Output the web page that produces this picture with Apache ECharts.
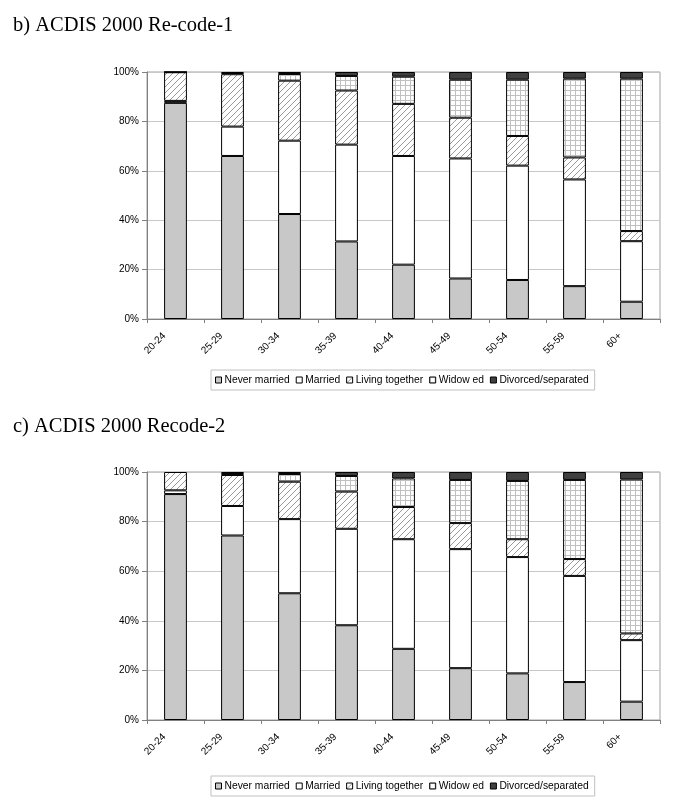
<!DOCTYPE html>
<html><head><meta charset="utf-8">
<script src="https://cdn.jsdelivr.net/npm/echarts@6/dist/echarts.min.js"></script>
<style>html,body{margin:0;padding:0;background:#fff}#c{width:676px;height:805px}</style>
</head><body><div id="c"></div>
<script>
const categories = ['20-24','25-29','30-34','35-39','40-44','45-49','50-54','55-59','60+'];
const seriesNames = ['Never married','Married','Living together','Widow ed','Divorced/separated'];
const yTicks = [0,20,40,60,80,100];

// Chart b) ACDIS 2000 Re-code-1 (percent)
const b_never    = [87.5, 66.0, 42.5, 31.4, 22.0, 16.4, 15.8, 13.3, 7.0];
const b_married  = [0.8, 11.9, 29.7, 39.2, 44.0, 48.6, 46.3, 43.2, 24.5];
const b_living   = [11.6, 21.2, 24.3, 21.9, 21.1, 16.5, 12.0, 8.9, 4.1];
const b_widowed  = [0.05, 0.5, 2.7, 5.9, 11.0, 15.4, 22.8, 31.9, 61.7];
const b_divorced = [0.05, 0.4, 0.8, 1.6, 1.9, 3.1, 3.1, 2.7, 2.7];

// Chart c) ACDIS 2000 Recode-2 (percent)
const c_never    = [91.1, 74.4, 51.1, 38.2, 28.7, 20.9, 18.8, 15.3, 7.4];
const c_married  = [1.5, 11.9, 29.9, 38.9, 44.2, 48.0, 46.9, 42.8, 24.8];
const c_living   = [7.4, 12.5, 15.1, 15.0, 13.0, 10.5, 7.2, 6.8, 2.7];
const c_widowed  = [0.05, 0.8, 3.1, 6.3, 11.5, 17.4, 23.5, 31.9, 62.1];
const c_divorced = [0.05, 0.4, 0.8, 1.6, 2.6, 3.2, 3.6, 3.2, 3.0];

function hatch(){
  const s=6, cv=document.createElement('canvas'); cv.width=s; cv.height=s;
  const g=cv.getContext('2d'); g.fillStyle='#fff'; g.fillRect(0,0,s,s);
  g.strokeStyle='#9a9a9a'; g.lineWidth=1;
  g.beginPath(); g.moveTo(-1,s+1); g.lineTo(s+1,-1); g.stroke();
  g.beginPath(); g.moveTo(-1,1); g.lineTo(1,-1); g.stroke();
  g.beginPath(); g.moveTo(s-1,s+1); g.lineTo(s+1,s-1); g.stroke();
  return cv;
}
function gridPat(){
  const s=5, cv=document.createElement('canvas'); cv.width=s; cv.height=s;
  const g=cv.getContext('2d'); g.fillStyle='#fff'; g.fillRect(0,0,s,s);
  g.fillStyle='#c0c0c0'; g.fillRect(0,0,s,1); g.fillRect(0,0,1,s);
  return cv;
}
const colors = ['#c8c8c8','#ffffff',{image:hatch(),repeat:'repeat'},{image:gridPat(),repeat:'repeat'},'#404040'];

const font = 'Liberation Sans, Arial, sans-serif';
function makeAxes(gi){
  return {
    x:{type:'category',gridIndex:gi,data:categories,boundaryGap:true,
      axisLine:{lineStyle:{color:'#808080'}},
      axisTick:{show:true,length:4,lineStyle:{color:'#808080'}},
      axisLabel:{rotate:45,fontFamily:font,fontSize:10,color:'#000',margin:4,interval:0,padding:[0,16,0,0]}},
    y:{type:'value',gridIndex:gi,min:0,max:100,interval:20,
      axisLine:{show:true,lineStyle:{color:'#808080'}},
      axisTick:{show:true,length:5,lineStyle:{color:'#808080'}},
      splitLine:{lineStyle:{color:'#c8c8c8'}},
      axisLabel:{formatter:'{value}%',fontFamily:font,fontSize:10,color:'#000',margin:8}}
  };
}
const a0=makeAxes(0), a1=makeAxes(1);
const bData=[b_never,b_married,b_living,b_widowed,b_divorced];
const cData=[c_never,c_married,c_living,c_widowed,c_divorced];
const series=[];
[bData,cData].forEach((set,gi)=>{
  set.forEach((d,i)=>{
    series.push({name:seriesNames[i],type:'bar',stack:'s'+gi,xAxisIndex:gi,yAxisIndex:gi,
      data:d,barWidth:'40%',
      itemStyle:{color:colors[i],borderColor:'#000',borderWidth:1},
      emphasis:{disabled:true}});
  });
});
const legendBase={data:seriesNames,icon:'rect',itemWidth:6,itemHeight:6,itemGap:6,
  textStyle:{fontFamily:font,fontSize:10.3,color:'#000',padding:[0,0,0,-2]},
  borderColor:'#c0c0c0',borderWidth:1,padding:[5,6,5,4],
  itemStyle:{borderColor:'#000',borderWidth:1}};
const chart=echarts.init(document.getElementById('c'),null,{renderer:'canvas'});
chart.setOption({
  animation:false,
  backgroundColor:'#fff',
  title:[
    {text:'b) ACDIS 2000 Re-code-1',left:8,top:10,textStyle:{fontFamily:'Liberation Serif, Times New Roman, serif',fontSize:20.5,fontWeight:'normal',color:'#000'}},
    {text:'c) ACDIS 2000 Recode-2',left:8,top:411,textStyle:{fontFamily:'Liberation Serif, Times New Roman, serif',fontSize:20.5,fontWeight:'normal',color:'#000'}}
  ],
  grid:[
    {left:147,top:72,width:513,height:247,show:true,borderColor:'#a0a0a0',borderWidth:1},
    {left:147,top:472,width:513,height:248,show:true,borderColor:'#a0a0a0',borderWidth:1}
  ],
  xAxis:[a0.x,a1.x],
  yAxis:[a0.y,a1.y],
  legend:[Object.assign({left:211,top:370},legendBase),Object.assign({left:211,top:776},legendBase)],
  series:series
});
</script></body></html>
